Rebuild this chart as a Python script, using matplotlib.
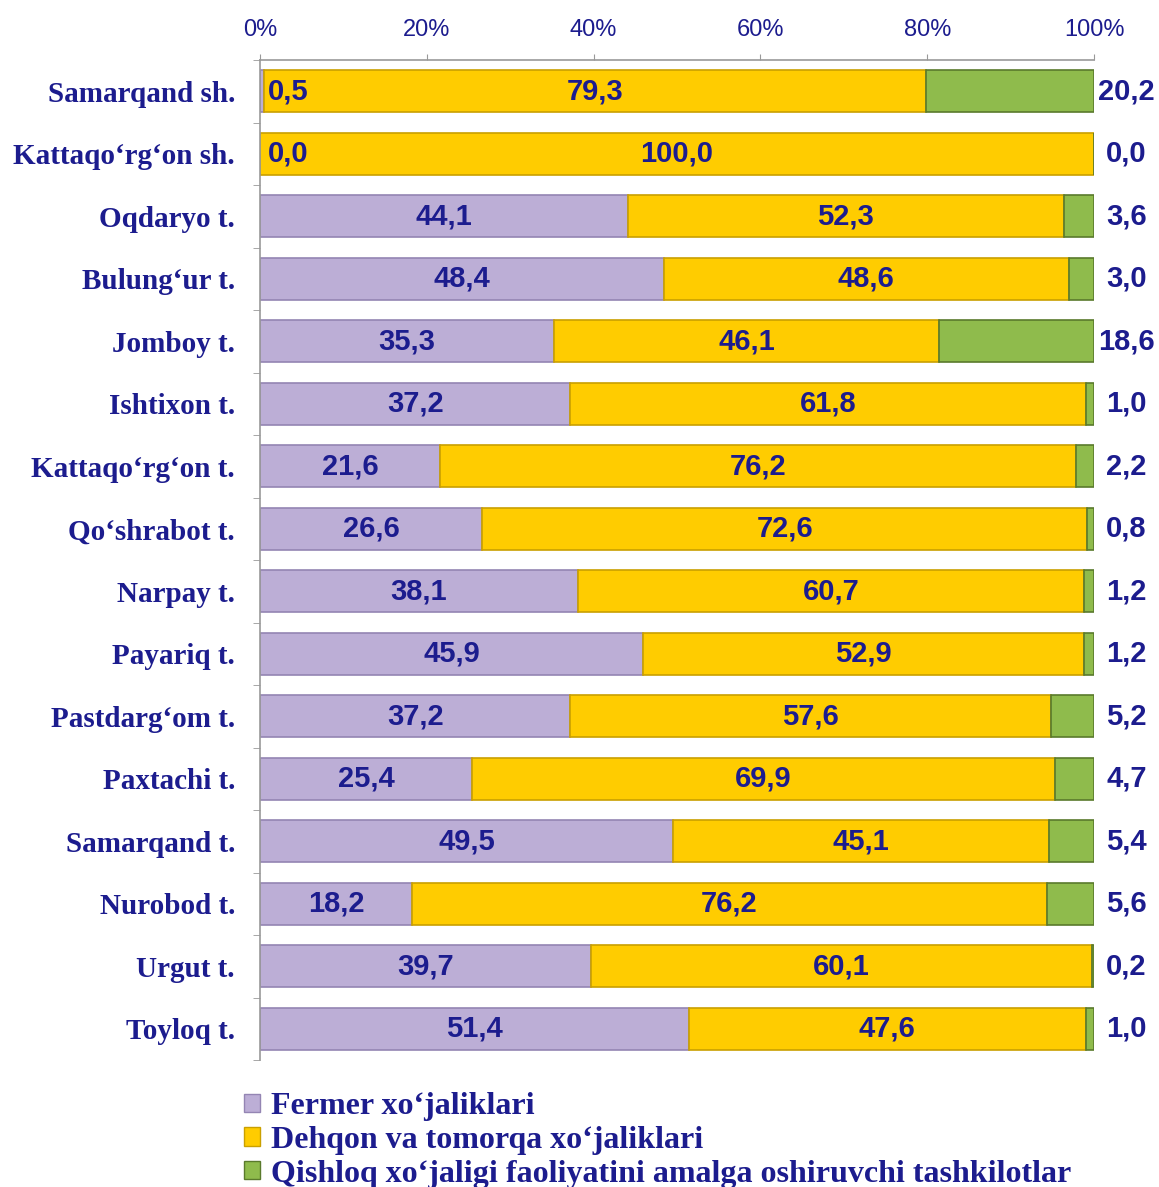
import matplotlib
matplotlib.use("Agg")
import matplotlib.pyplot as plt
from matplotlib.patches import Patch
import numpy as np

categories = ["Samarqand sh.", "Kattaqo‘rg‘on sh.", "Oqdaryo t.", "Bulung‘ur t.",
              "Jomboy t.", "Ishtixon t.", "Kattaqo‘rg‘on t.", "Qo‘shrabot t.",
              "Narpay t.", "Payariq t.", "Pastdarg‘om t.", "Paxtachi t.",
              "Samarqand t.", "Nurobod t.", "Urgut t.", "Toyloq t."]
fermer = [0.5, 0.0, 44.1, 48.4, 35.3, 37.2, 21.6, 26.6, 38.1, 45.9, 37.2, 25.4, 49.5, 18.2, 39.7, 51.4]
dehqon = [79.3, 100.0, 52.3, 48.6, 46.1, 61.8, 76.2, 72.6, 60.7, 52.9, 57.6, 69.9, 45.1, 76.2, 60.1, 47.6]
qishloq = [20.2, 0.0, 3.6, 3.0, 18.6, 1.0, 2.2, 0.8, 1.2, 1.2, 5.2, 4.7, 5.4, 5.6, 0.2, 1.0]
series_names = ["Fermer xo‘jaliklari", "Dehqon va tomorqa xo‘jaliklari",
                "Qishloq xo‘jaligi faoliyatini amalga oshiruvchi tashkilotlar"]
xticks = [0, 20, 40, 60, 80, 100]

navy = "#1c1c8e"
c_f, e_f = "#bcaed6", "#9485b3"
c_d, e_d = "#ffcc00", "#caa000"
c_q, e_q = "#8fbb4c", "#5a7a2c"

fig = plt.figure(figsize=(11.59, 11.87), dpi=100)
ax = fig.add_axes([260/1159, 1-1060/1187, (1094-260)/1159, 1000/1187])

y = np.arange(len(categories))
f = np.array(fermer); d = np.array(dehqon); q = np.array(qishloq)
h = 0.67
ax.barh(y, f, height=h, color=c_f, edgecolor=e_f, linewidth=1.2)
ax.barh(y, d, left=f, height=h, color=c_d, edgecolor=e_d, linewidth=1.2)
ax.barh(y, q, left=f+d, height=h, color=c_q, edgecolor=e_q, linewidth=1.2)

ax.set_xlim(0, 100)
ax.set_ylim(len(categories)-0.5, -0.5)
ax.xaxis.tick_top()
ax.set_xticks(xticks)
ax.set_xticklabels([f"{t}%" for t in xticks], fontsize=17, color=navy,
                   family="Liberation Sans")
ax.tick_params(axis="x", direction="out", length=4.5, color="#999999", pad=9)
ax.set_yticks(y)
ax.set_yticklabels(categories, fontsize=21, color=navy, family="Liberation Serif",
                   fontweight="bold")
ax.tick_params(axis="y", length=0, pad=18)
ax.set_yticks(np.arange(len(categories)+1)-0.5, minor=True)
ax.tick_params(axis="y", which="minor", length=5, color="#999999", direction="out")
for s in ["right", "bottom"]:
    ax.spines[s].set_visible(False)
for s in ["left", "top"]:
    ax.spines[s].set_color("#999999")
    ax.spines[s].set_linewidth(1.2)

lab_kw = dict(fontsize=21, fontweight="bold", color=navy, family="Liberation Sans",
              va="center")
def fmt(v):
    return f"{v:.1f}".replace(".", ",")
for i in range(len(categories)):
    if f[i] < 5:
        ax.text(1, y[i], fmt(f[i]), ha="left", **lab_kw)
    else:
        ax.text(f[i]/2, y[i], fmt(f[i]), ha="center", **lab_kw)
    ax.text(f[i] + d[i]/2, y[i], fmt(d[i]), ha="center", **lab_kw)
    ax.text(103.9, y[i], fmt(q[i]), ha="center", clip_on=False, **lab_kw)

handles = [Patch(facecolor=c, edgecolor=e) for c, e in [(c_f, e_f), (c_d, e_d), (c_q, e_q)]]
fig.legend(handles, series_names, loc="upper left",
           bbox_to_anchor=(244/1159, 1-1092/1187), frameon=False,
           prop=dict(family="Liberation Serif", weight="bold", size=23),
           labelcolor=navy, handlelength=0.5, handleheight=0.5, handletextpad=0.35,
           labelspacing=0.15, borderaxespad=0, borderpad=0)

fig.savefig("out.png", dpi=100, facecolor="white")
